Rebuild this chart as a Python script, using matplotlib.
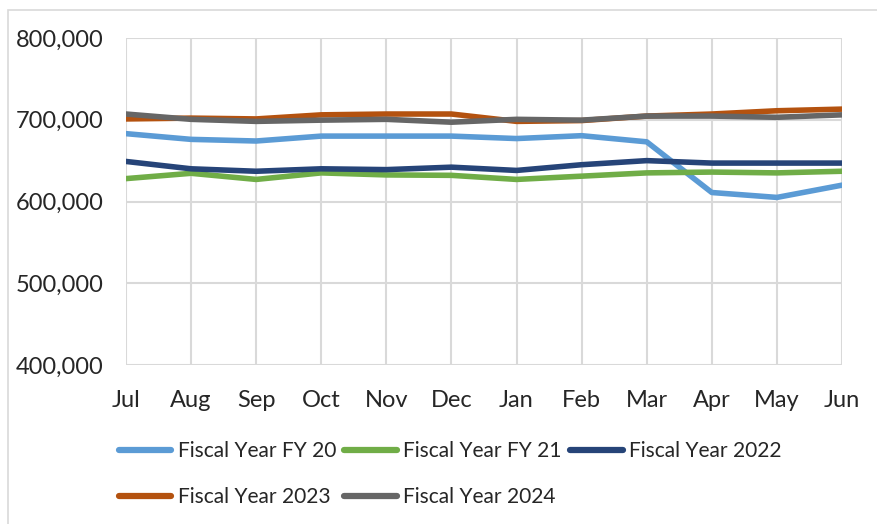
import matplotlib.pyplot as plt
import matplotlib.patches as patches
from matplotlib.ticker import FuncFormatter

months = ['Jul', 'Aug', 'Sep', 'Oct', 'Nov', 'Dec', 'Jan', 'Feb', 'Mar', 'Apr', 'May', 'Jun']

fy20 = [683000, 676000, 674000, 680000, 680000, 680000, 677000, 680500, 673000, 611000, 605000, 620000]
fy21 = [628000, 634500, 627000, 635000, 632500, 632000, 627000, 631000, 635000, 636000, 635000, 637000]
fy22 = [649000, 640000, 637000, 640000, 639000, 642000, 638000, 645000, 650000, 647000, 647000, 647000]
fy23 = [701000, 702000, 701000, 706000, 707000, 707000, 698000, 699000, 704500, 707000, 711000, 713000]
fy24 = [707000, 700500, 698000, 699500, 700500, 697000, 700500, 699500, 704500, 704500, 703000, 706000]

series = [
    ('Fiscal Year FY 20', fy20, '#5B9BD5'),
    ('Fiscal Year FY 21', fy21, '#70AD47'),
    ('Fiscal Year 2022', fy22, '#264478'),
    ('Fiscal Year 2023', fy23, '#B4520F'),
    ('Fiscal Year 2024', fy24, '#666666'),
]

plt.rcParams['font.family'] = ['Lato', 'DejaVu Sans']
text_color = '#262626'
tick_fs = 17
legend_fs = 15.1

fig = plt.figure(figsize=(8.78, 5.24), dpi=100)
ax = fig.add_axes([0.1435, 0.3034, 0.8155, 0.6241])

# light frame around the chart area
fig.patches.append(patches.Rectangle((8 / 878, -0.05), 1.1, 1 - 10 / 524 + 0.05,
                                     transform=fig.transFigure, fill=False,
                                     edgecolor='#d9d9d9', linewidth=1.2))

x = list(range(len(months)))
lines = []
for label, values, color in series:
    ln, = ax.plot(x, values, color=color, linewidth=4.0, label=label,
                  solid_capstyle='round', solid_joinstyle='round')
    lines.append(ln)

ax.set_xlim(0, len(months) - 1)
ax.set_ylim(400000, 800000)
ax.set_yticks([400000, 500000, 600000, 700000, 800000])
ax.yaxis.set_major_formatter(FuncFormatter(lambda v, p: f'{int(v):,}'))
ax.set_xticks(x)
ax.set_xticklabels(months)

ax.grid(True, color='#d9d9d9', linewidth=1.5)
ax.set_axisbelow(True)
for s in ax.spines.values():
    s.set_visible(False)
ax.tick_params(axis='both', length=0, labelsize=tick_fs, colors=text_color)
ax.tick_params(axis='y', pad=16)
ax.tick_params(axis='x', pad=18)

# legend fills column-wise, so reorder to read row by row
order = [0, 3, 1, 4, 2]
leg = fig.legend([lines[i] for i in order], [series[i][0] for i in order],
                 loc='upper left', bbox_to_anchor=(119 / 878, 1 - 441 / 524),
                 ncol=3, frameon=False, fontsize=legend_fs, handlelength=2.5,
                 handletextpad=0.3, columnspacing=0.4, labelspacing=1.25,
                 borderaxespad=0, borderpad=0)
for t in leg.get_texts():
    t.set_color(text_color)
for h in leg.legend_handles:
    h.set_linewidth(4.5)

plt.savefig('out.png', dpi=100)
